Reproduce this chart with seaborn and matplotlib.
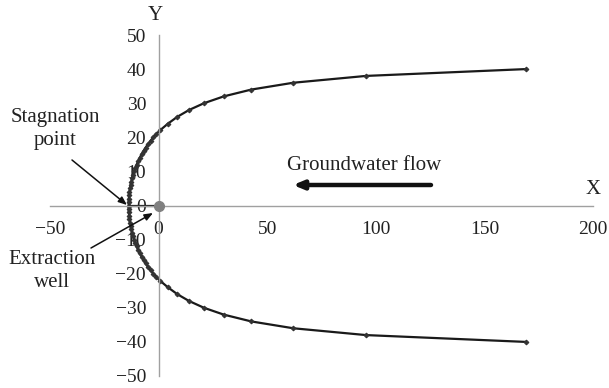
import matplotlib
matplotlib.use("Agg")
import matplotlib.pyplot as plt
import seaborn as sns
import pandas as pd

# Capture-zone boundary points
curve_y = [-40, -38, -36, -34, -32, -30, -28, -26, -24, -22, -21, -20, -19, -18, -17, -16, -15,
           -14, -13, -12, -11, -10, -9, -8, -7, -6, -5, -4, -3, -2, -1, 0,
           1, 2, 3, 4, 5, 6, 7, 8, 9, 10, 11, 12, 13, 14, 15, 16, 17, 18, 19, 20, 21, 22,
           24, 26, 28, 30, 32, 34, 36, 38, 40]
curve_x = [169, 95.5, 62.0, 42.7, 30.0, 20.9, 14.0, 8.6, 4.3, 0.56, -0.99, -2.41, -3.70, -4.88, -5.96, -6.95, -7.87,
           -8.68, -9.43, -10.11, -10.72, -11.28, -11.77, -12.20, -12.57, -12.90, -13.17, -13.40, -13.57, -13.69, -13.76, -13.8,
           -13.76, -13.69, -13.57, -13.40, -13.17, -12.90, -12.57, -12.20, -11.77, -11.28, -10.72, -10.11, -9.43, -8.68, -7.87, -6.95, -5.96, -4.88, -3.70, -2.41, -0.99, 0.56,
           4.3, 8.6, 14.0, 20.9, 30.0, 42.7, 62.0, 95.5, 169]

# Stagnation point to extraction well segment
well_x = [-13.8, 0]
well_y = [0, 0]

x_ticks = [-50, 0, 50, 100, 150, 200]
y_ticks = [-50, -40, -30, -20, -10, 0, 10, 20, 30, 40, 50]

sns.set_style("white")
plt.rcParams['font.family'] = ['Liberation Serif', 'DejaVu Serif']

W, H = 609, 388
fig = plt.figure(figsize=(W / 100, H / 100), dpi=100)
ax = fig.add_axes([50 / W, 1 - 376 / H, (593 - 50) / W, (376 - 35) / H])

df = pd.DataFrame({"x": curve_x, "y": curve_y})
sns.lineplot(data=df, x="x", y="y", sort=False, estimator=None, ax=ax,
             color="#1a1a1a", linewidth=1.6, marker="D", markersize=2.4,
             markeredgecolor="#333333", markerfacecolor="#333333")

sns.lineplot(x=well_x, y=well_y, sort=False, estimator=None, ax=ax,
             color="#1a1a1a", linewidth=1.6)
ax.plot([0], [0], marker="o", markersize=7, color="#808080", linestyle="none", zorder=5)

ax.set_xlim(-50, 200)
ax.set_ylim(-50, 50)
ax.set_xticks(x_ticks)
ax.set_yticks(y_ticks)
ax.set_xticklabels([f"{v:d}".replace("-", "\u2212") for v in x_ticks])
ax.set_yticklabels([f"{v:d}".replace("-", "\u2212") for v in y_ticks])

for s in ["top", "right"]:
    ax.spines[s].set_visible(False)
ax.spines["left"].set_position(("data", 0))
ax.spines["bottom"].set_position(("data", 0))
for s in ["left", "bottom"]:
    ax.spines[s].set_color("#a0a0a0")
    ax.spines[s].set_linewidth(1.0)

ax.tick_params(axis="both", which="both", direction="out", length=5, width=1.0,
               color="#a0a0a0", labelsize=14, labelcolor="#222222")
ax.tick_params(axis="x", pad=6)
ax.tick_params(axis="y", pad=4)
ax.set_xlabel("")
ax.set_ylabel("")


def fp(px, py):
    return (px / W, 1 - py / H)


fig.text(*fp(155, 16), "Y", ha="center", va="center", fontsize=15, color="#222222")
fig.text(*fp(593, 190), "X", ha="center", va="center", fontsize=15, color="#222222")

fig.text(*fp(364, 165), "Groundwater flow", ha="center", va="center", fontsize=15, color="#222222")
ax.annotate("", xy=fp(293, 185), xytext=fp(431, 185), xycoords="figure fraction",
            textcoords="figure fraction",
            arrowprops=dict(arrowstyle="-|>,head_length=0.6,head_width=0.25", lw=3.2, color="#111111",
                            shrinkA=0, shrinkB=0), annotation_clip=False)

fig.text(*fp(55, 129), "Stagnation\npoint", ha="center", va="center", fontsize=15, color="#222222",
         linespacing=1.3)
ax.annotate("", xy=fp(127, 205), xytext=fp(72, 160), xycoords="figure fraction",
            textcoords="figure fraction",
            arrowprops=dict(arrowstyle="-|>,head_length=0.5,head_width=0.2", lw=1.1, color="#111111",
                            shrinkA=0, shrinkB=0), annotation_clip=False)

ax.annotate("", xy=fp(153, 213), xytext=fp(91, 248), xycoords="figure fraction",
            textcoords="figure fraction",
            arrowprops=dict(arrowstyle="-|>,head_length=0.5,head_width=0.2", lw=1.1, color="#111111",
                            shrinkA=0, shrinkB=0), annotation_clip=False)
fig.text(*fp(52, 271), "Extraction\nwell", ha="center", va="center", fontsize=15, color="#222222",
         linespacing=1.3)

fig.savefig("out.png", dpi=100)
